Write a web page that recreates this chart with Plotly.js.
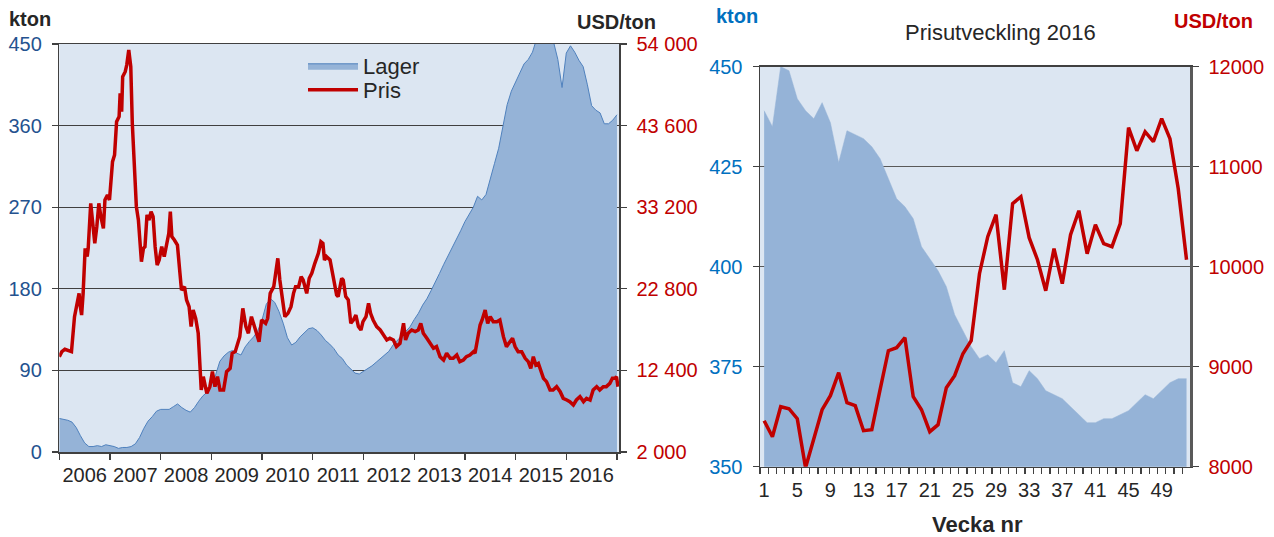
<!DOCTYPE html>
<html>
<head>
<meta charset="utf-8">
<script src="https://cdn.plot.ly/plotly-3.0.1.min.js"></script>
<style>
html,body{margin:0;padding:0;background:#fff;}
#chart{width:1274px;height:537px;}
</style>
</head>
<body>
<div id="chart"></div>
<script>
// ---------- DATA ----------
// Left chart: LME stocks (kton), monthly from Jan 2006 to Jan 2017
const lagerStart = 2006;
const lagerKton = [
 37,36,35,33,27,18,10,6,6,7,6,8,
 7,6,4,5,5,6,9,16,26,34,39,45,
 47,47,47,50,53,49,46,44,49,56,62,66,
 74,85,100,106,110,112,109,107,116,122,127,134,
 146,163,169,165,155,142,126,118,121,127,132,136,
 137,134,129,123,119,114,107,103,96,91,87,86,
 89,92,95,99,103,106,111,118,123,128,132,138,
 146,153,162,169,178,187,197,207,216,225,234,244,
 254,262,270,282,278,284,300,318,335,357,383,398,
 408,418,428,433,441,456,462,465,462,452,433,402,
 440,448,441,432,425,405,382,377,374,362,362,366,
 372
];
// Left chart: price (USD/ton), by decimal year
const prisYear = [
 2006.00,2006.05,2006.11,2006.21,2006.24,2006.30,2006.34,2006.39,2006.41,2006.44,2006.47,2006.51,2006.55,2006.57,
 2006.62,2006.66,2006.70,2006.74,2006.78,2006.82,2006.87,2006.90,2006.95,2006.99,2007.05,2007.09,2007.13,2007.18,
 2007.20,2007.23,2007.25,2007.30,2007.33,2007.37,2007.41,2007.44,2007.48,2007.52,2007.56,2007.60,2007.62,2007.66,
 2007.69,2007.73,2007.77,2007.81,2007.85,2007.89,2007.93,2007.97,2008.02,2008.07,2008.11,2008.16,2008.19,2008.22,
 2008.27,2008.33,2008.38,2008.41,2008.47,2008.51,2008.56,2008.60,2008.64,2008.69,2008.74,2008.80,2008.84,2008.91,
 2008.97,2009.02,2009.07,2009.12,2009.17,2009.24,2009.30,2009.37,2009.41,2009.47,2009.52,2009.56,2009.62,2009.68,
 2009.73,2009.79,2009.86,2009.94,2009.99,2010.07,2010.11,2010.16,2010.23,2010.31,2010.35,2010.40,2010.45,2010.51,
 2010.57,2010.62,2010.66,2010.72,2010.77,2010.81,2010.88,2010.93,2010.98,2011.04,2011.11,2011.16,2011.20,2011.23,
 2011.27,2011.34,2011.39,2011.43,2011.47,2011.50,2011.57,2011.60,2011.65,2011.70,2011.75,2011.80,2011.85,2011.90,
 2011.95,2011.99,2012.05,2012.10,2012.14,2012.19,2012.26,2012.33,2012.39,2012.46,2012.52,2012.59,2012.65,2012.72,
 2012.79,2012.83,2012.88,2012.95,2013.02,2013.08,2013.13,2013.18,2013.25,2013.31,2013.38,2013.44,2013.51,2013.58,
 2013.64,2013.71,2013.77,2013.84,2013.90,2013.97,2014.03,2014.10,2014.17,2014.20,2014.25,2014.30,2014.34,2014.40,
 2014.45,2014.50,2014.56,2014.63,2014.69,2014.76,2014.82,2014.89,2014.94,2014.99,2015.05,2015.12,2015.19,2015.25,
 2015.30,2015.35,2015.40,2015.45,2015.50,2015.55,2015.61,2015.68,2015.74,2015.81,2015.88,2015.94,2016.01,2016.07,
 2016.14,2016.20,2016.27,2016.34,2016.40,2016.47,2016.53,2016.60,2016.66,2016.73,2016.79,2016.86,2016.91,2016.96,
 2016.99,2017.02
];
const prisUsd = [
 14150,14790,15090,14790,14790,19250,20520,22220,20740,19460,22220,27960,26900,27960,
 33690,30720,28600,30720,33690,32000,30510,34120,34760,34120,39000,39850,44100,44740,
 47710,45380,49840,50470,51320,53240,51110,43890,37520,33270,31570,28170,26260,27960,
 28170,32210,31570,32630,32000,28170,25830,26470,28170,26900,28170,29870,32630,29450,
 29020,28380,24770,22650,23070,21380,20520,17980,20100,19040,17130,9900,11600,9480,
 10330,12240,10330,11600,9900,9900,12240,12660,14580,14790,15850,16700,20310,17980,
 17130,19250,17760,16060,18830,18400,19040,22220,23070,26680,23920,21800,19250,19670,
 20520,22220,23070,23070,24350,23920,22220,24140,24770,26050,27320,28810,28600,26470,
 26900,26470,24770,23500,22010,21800,24140,23920,21800,21380,18400,18830,19460,17980,
 17550,18610,19250,20950,19670,18830,17980,17550,16910,16280,16490,16280,15430,15850,
 18400,16280,17130,17550,17340,17550,18400,17130,16490,15850,15220,15430,14150,13730,
 14580,13940,13940,14360,13510,13730,14150,14360,14790,14580,16280,18190,18830,20100,
 18400,19250,18610,18610,18830,16700,15430,16060,16490,15430,14790,14790,13940,13510,
 12660,14150,13090,13300,12240,11390,10970,9900,9900,10330,9690,8840,8630,8420,
 7990,8630,9060,8420,8840,8630,9900,10330,9900,10330,10330,10750,11390,11390,
 11600,10330
];
const yearLabels = ['2006','2007','2008','2009','2010','2011','2012','2013','2014','2015','2016'];
const ktonTicksLeft = [0,90,180,270,360,450];
const prisTicksLeft = [2000,12400,22800,33200,43600,54000];

// Right chart: 2016 weekly
const weeks = Array.from({length:52},(_,i)=>i+1);
const lager2016 = [
 439,435,450,449,442,439,437,441,436,426,434,433,432,430,427,422,417,415,412,405,
 402,399,395,388,384,380,377,378,376,379,371,370,374,372,369,368,367,365,363,361,
 361,362,362,363,364,366,368,367,369,371,372,372
];
const pris2016 = [
 8460,8300,8600,8580,8480,7990,8280,8570,8710,8940,8640,8610,8360,8370,8770,9160,9190,9290,8700,8570,
 8350,8420,8790,8910,9130,9260,9930,10300,10520,9770,10630,10700,10290,10070,9760,10180,9830,10320,10560,10130,
 10420,10230,10200,10430,11390,11160,11350,11250,11480,11280,10780,10070
];
const weekLabelVals = [1,5,9,13,17,21,25,29,33,37,41,45,49];
const ktonTicksRight = [350,375,400,425,450];
const prisTicksRight = [8000,9000,10000,11000,12000];

// ---------- BUILD ----------
const W = 1274, H = 537;
const px = x => x / W;
const py = y => 1 - y / H;
const spaced = v => String(v).replace(/\B(?=(\d{3})+(?!\d))/g, ' ');

const lagerX = lagerKton.map((_, i) => lagerStart + i / 12);
const yearMid = yearLabels.map(s => Number(s) + 0.5);

const FONT = '"Liberation Sans", Arial, Helvetica, sans-serif';
const RED = '#c00000';
const AREA = '#95b3d7';
const AXC = '#404040';

const traces = [
 {x: lagerX, y: lagerKton, name: 'Lager', type: 'scatter', mode: 'lines', legend: 'legend',
  fill: 'tozeroy', fillcolor: AREA, line: {color: '#4f81bd', width: 1}, xaxis: 'x', yaxis: 'y'},
 {x: prisYear, y: prisUsd, name: 'Pris', type: 'scatter', mode: 'lines', legend: 'legend2',
  line: {color: RED, width: 3.5}, xaxis: 'x', yaxis: 'y2'},
 {x: weeks, y: lager2016, name: 'Lager 2016', type: 'scatter', mode: 'lines', showlegend: false,
  fill: 'tozeroy', fillcolor: AREA, line: {color: AREA, width: 0.5}, xaxis: 'x2', yaxis: 'y3'},
 {x: weeks, y: pris2016, name: 'Pris 2016', type: 'scatter', mode: 'lines', showlegend: false,
  line: {color: RED, width: 3.5}, xaxis: 'x2', yaxis: 'y4'}
];

const legendBase = {xanchor: 'left', yanchor: 'top', bgcolor: 'rgba(0,0,0,0)',
  font: {size: 22, color: '#262626'}, itemwidth: 50, tracegroupgap: 0, borderwidth: 0};

const layout = {
 width: W, height: H,
 margin: {l: 0, r: 0, t: 0, b: 0},
 paper_bgcolor: '#ffffff', plot_bgcolor: '#dce6f2',
 font: {family: FONT, size: 20, color: '#262626'},
 showlegend: true,
 legend: Object.assign({x: px(303), y: py(45)}, legendBase),
 legend2: Object.assign({x: px(303), y: py(69)}, legendBase),
 xaxis: {domain: [px(59.3), px(619)], range: [2006, 2017.04], anchor: 'y',
  tickmode: 'array', tickvals: yearMid, ticktext: yearLabels, ticks: '', ticklabelstandoff: 4,
  minor: {tick0: 2006, dtick: 1, ticks: 'outside', ticklen: 6, tickcolor: AXC, tickwidth: 1.3, showgrid: false},
  showgrid: false, zeroline: false, showline: true, mirror: true, linecolor: AXC, linewidth: 1.5,
  tickfont: {size: 20, color: '#262626'}},
 yaxis: {domain: [py(452), py(44)], range: [0, 450], anchor: 'x',
  tickmode: 'array', tickvals: ktonTicksLeft, ticks: 'outside', ticklen: 6, tickcolor: AXC, tickwidth: 1.3,
  ticklabelstandoff: 6,
  showgrid: true, gridcolor: AXC, gridwidth: 1.2, zeroline: false, showline: true, linecolor: AXC, linewidth: 1.5,
  tickfont: {size: 20, color: '#24528f'}},
 yaxis2: {overlaying: 'y', side: 'right', anchor: 'x', range: [2000, 54000],
  tickmode: 'array', tickvals: prisTicksLeft, ticktext: prisTicksLeft.map(spaced),
  ticks: 'outside', ticklen: 6, tickcolor: AXC, tickwidth: 1.3, ticklabelstandoff: 6,
  showgrid: false, zeroline: false, showline: true, linecolor: AXC, linewidth: 1.5,
  tickfont: {size: 20, color: RED}},
 xaxis2: {domain: [px(760), px(1190)], range: [0.5, 52.42], anchor: 'y3',
  tickmode: 'array', tickvals: weekLabelVals, ticks: '', ticklabelstandoff: 5,
  minor: {tick0: 0.5, dtick: 1, ticks: 'outside', ticklen: 6, tickcolor: AXC, tickwidth: 1.3, showgrid: false},
  showgrid: false, zeroline: false, showline: true, mirror: true, linecolor: AXC, linewidth: 1.5,
  tickfont: {size: 20, color: '#262626'}},
 yaxis3: {domain: [py(466.7), py(66.7)], range: [350, 450], anchor: 'x2',
  tickmode: 'array', tickvals: ktonTicksRight, ticks: 'outside', ticklen: 6, tickcolor: AXC, tickwidth: 1.3,
  ticklabelstandoff: 6,
  showgrid: true, gridcolor: '#595959', gridwidth: 1.2, zeroline: false, showline: true, linecolor: AXC, linewidth: 1.5,
  tickfont: {size: 20, color: '#0070c0'}},
 yaxis4: {overlaying: 'y3', side: 'right', anchor: 'x2', range: [8000, 12000],
  tickmode: 'array', tickvals: prisTicksRight, ticktext: prisTicksRight.map(String),
  ticks: 'outside', ticklen: 6, tickcolor: AXC, tickwidth: 1.3, ticklabelstandoff: 6,
  showgrid: false, zeroline: false, showline: true, linecolor: '#595959', linewidth: 2.5,
  tickfont: {size: 20, color: RED}},
 annotations: [
  {text: '<b>kton</b>', xref: 'paper', yref: 'paper', x: px(7), y: py(19), xanchor: 'left', yanchor: 'middle',
   showarrow: false, font: {size: 20, color: '#262626'}},
  {text: '<b>USD/ton</b>', xref: 'paper', yref: 'paper', x: px(575), y: py(22), xanchor: 'left', yanchor: 'middle',
   showarrow: false, font: {size: 20, color: '#262626'}},
  {text: '<b>kton</b>', xref: 'paper', yref: 'paper', x: px(714), y: py(16), xanchor: 'left', yanchor: 'middle',
   showarrow: false, font: {size: 20, color: '#0070c0'}},
  {text: '<b>USD/ton</b>', xref: 'paper', yref: 'paper', x: px(1172), y: py(21), xanchor: 'left', yanchor: 'middle',
   showarrow: false, font: {size: 20, color: RED}},
  {text: 'Prisutveckling 2016', xref: 'paper', yref: 'paper', x: px(1000.5), y: py(33), xanchor: 'center', yanchor: 'middle',
   showarrow: false, font: {size: 22, color: '#262626'}},
  {text: '<b>Vecka nr</b>', xref: 'paper', yref: 'paper', x: px(977.5), y: py(524), xanchor: 'center', yanchor: 'middle',
   showarrow: false, font: {size: 22, color: '#262626'}}
 ]
};

Plotly.newPlot('chart', traces, layout, {staticPlot: true, displayModeBar: false});
</script>
</body>
</html>
